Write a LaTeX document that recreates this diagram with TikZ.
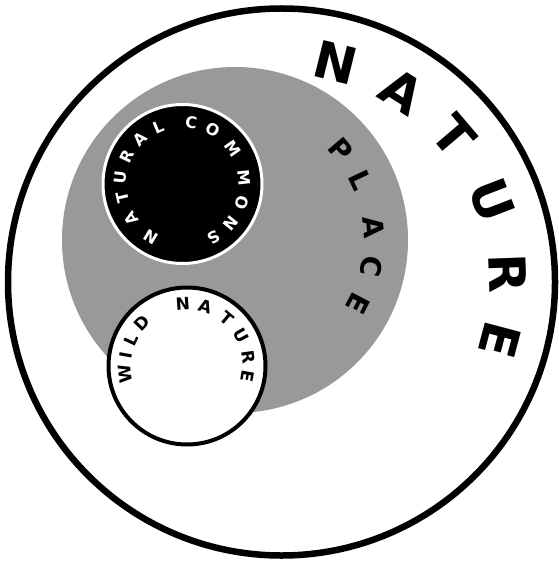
\documentclass[tikz,border=0pt]{standalone}
\usepackage{fontspec}
\usetikzlibrary{calc}
\newfontfamily\lblfont{DejaVu Sans}
\tikzset{
  ring/.style={circle, inner sep=0pt, outer sep=0pt},
  glyph/.style={inner sep=0pt, outer sep=0pt, anchor=center},
  bigtxt/.style={glyph, font=\lblfont\bfseries\fontsize{51}{51}\selectfont},
  midtxt/.style={glyph, font=\lblfont\bfseries\fontsize{28}{28}\selectfont},
  smalltxt/.style={glyph, font=\lblfont\bfseries\fontsize{16}{16}\selectfont},
  wildtxt/.style={glyph, font=\lblfont\bfseries\fontsize{17}{17}\selectfont},
}
\begin{document}
\begin{tikzpicture}[x=1pt,y=1pt]
  \useasboundingbox (0,0) rectangle (558,-561);
  % outer circle
  \node[ring, draw=black, line width=6.5pt, minimum size=547pt] (outer) at (281.5,-282) {};
  % gray place
  \node[ring, fill=black!40, minimum size=346pt] (place) at (235,-240) {};
  % natural commons
  \node[ring, fill=black, draw=white, line width=3pt, minimum size=159pt] (commons) at (182.5,-184) {};
  % wild nature
  \node[ring, fill=white, draw=black, line width=4pt, minimum size=157pt] (wild) at (187,-366) {};
  % NATURE
  \foreach \a/\ch [count=\i] in {76.1/N,57.6/A,40.4/T,21.1/U,2.1/R,-14.8/E}
    \node[bigtxt, rotate=\a-90] (nat\i) at ($(outer.center)+(\a:226)$) {\ch};
  % PLACE
  \foreach \a/\ch [count=\i] in {40.6/P,25.3/L,5.4/A,-11/C,-27.5/E}
    \node[midtxt, rotate=\a-90] (pl\i) at ($(place.center)+(\a:139)$) {\ch};
  % NATURAL COMMONS
  \foreach \a/\ch [count=\i] in {239/N,214/A,193/T,174/U,154/R,133/A,113/L,82/C,61/O,35/M,6/M,-18/O,-39/N,-60/S}
    \node[smalltxt, text=white, rotate=\a-90] (nc\i) at ($(commons.center)+(\a:62)$) {\ch};
  % WILD NATURE
  \foreach \a/\ch [count=\i] in {187/W,170/I,155/L,136/D,94/N,73/A,50/T,29/U,8/R,-10/E}
    \node[wildtxt, rotate=\a-90] (wn\i) at ($(wild.center)+(\a:62)$) {\ch};
\end{tikzpicture}
\end{document}
